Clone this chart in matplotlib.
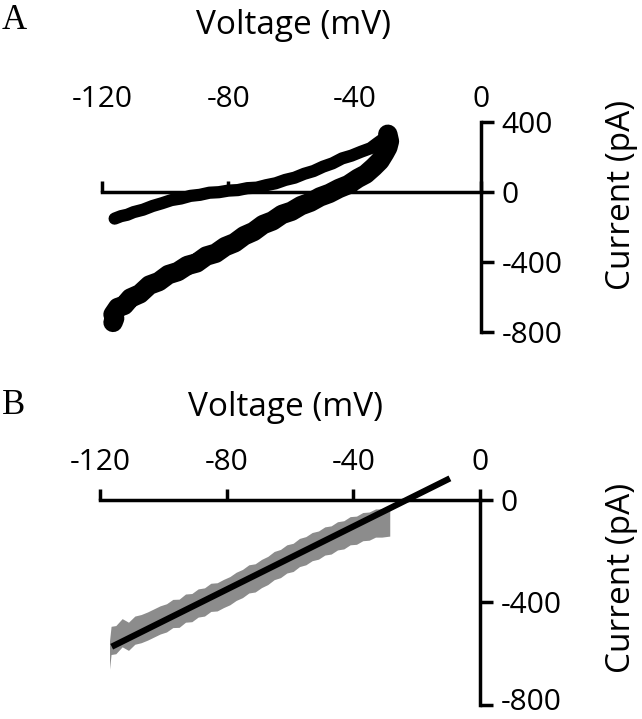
import matplotlib
matplotlib.use("Agg")
import matplotlib.pyplot as plt
import matplotlib.transforms as mtransforms
import numpy as np

# ---------------- data ----------------
# Panel A: ramp I-V, upper (rising) branch
a_up_v = [-116, -114, -112, -110, -107, -104, -101, -98, -95, -92, -89, -86, -83, -80,
          -77, -74, -71, -68, -65, -62, -59, -56, -53, -50, -47, -44, -41, -38, -35, -33, -31, -30]
a_up_i = [-152, -138, -130, -115, -101, -80, -64, -46, -37, -22, -16, -4, -1, 8,
          11, 22, 25, 39, 50, 69, 82, 104, 120, 145, 164, 192, 208, 230, 250, 277, 303, 335]
# Panel A: lower (returning) branch, from tip back to -117 mV
a_dn_v = [-29.5, -29, -29.5, -30.5, -32, -34, -36.5, -39, -42, -45, -48, -51, -54, -57, -60,
          -63, -66, -69, -72, -75, -78, -81, -84, -87, -90, -93, -96, -99, -102, -105,
          -108, -111, -113, -115, -116.5, -116, -116.5]
a_dn_i = [330, 290, 255, 222, 178, 142, 102, 78, 42, 20, -8, -28, -58, -78, -110,
          -128, -165, -186, -226, -250, -290, -312, -350, -366, -405, -420, -455, -472, -512, -532,
          -582, -606, -648, -660, -700, -722, -745]

# Panel B: averaged trace (grey) and linear fit
b_v = [-117, -116.5, -115, -113, -111, -109, -107, -105, -103, -101, -99, -97, -95, -93, -91,
       -89, -87, -85, -83, -81, -79, -77, -75, -73, -71, -69, -67, -65, -63, -61, -59, -57,
       -55, -53, -51, -49, -47, -45, -43, -41, -39, -37, -35, -33, -31, -28.5]
b_i = [-605, -548, -545, -518, -532, -508, -502, -492, -480, -468, -460, -443, -442, -422, -420,
       -402, -398, -380, -378, -365, -354, -337, -326, -308, -304, -287, -275, -256, -248, -230,
       -224, -205, -198, -182, -176, -160, -156, -140, -136, -120, -118, -104, -102, -90, -90, -86]
b_halfwidth = 55          # pA, half thickness of the grey trace
fit_v = [-116.3, -9.5]    # mV, extent of the fitted line
fit_g = 6.15              # pA/mV (nS)
fit_erev = -23.2          # mV

x_ticks = [-120, -80, -40, 0]
a_y_ticks = [400, 0, -400, -800]
b_y_ticks = [0, -400, -800]

# ---------------- figure ----------------
W, H = 642, 719
fig = plt.figure(figsize=(W / 100, H / 100), dpi=100)

label_font = "Open Sans"
tick_font = "Open Sans"

def setup(ax, ylim, ybounds, yticks):
    ax.set_xlim(-120, 0)
    ax.set_ylim(*ylim)
    ax.patch.set_visible(False)
    for s in ("left", "top"):
        ax.spines[s].set_visible(False)
    ax.spines["bottom"].set_position(("data", 0))
    ax.spines["right"].set_position(("data", 0))
    ax.spines["bottom"].set_bounds(-120, 0)
    ax.spines["right"].set_bounds(*ybounds)
    for s in ("bottom", "right"):
        ax.spines[s].set_linewidth(2.5)
        ax.spines[s].set_capstyle("projecting")
    ax.set_xticks(x_ticks)
    ax.set_xticklabels([str(t) for t in x_ticks])
    ax.set_yticks(yticks)
    ax.set_yticklabels([str(t) for t in yticks])
    ax.tick_params(axis="x", direction="in", length=8, width=2.5,
                   bottom=True, top=False, labelbottom=False, labeltop=True,
                   pad=3, labelsize=21.5)
    ax.tick_params(axis="y", direction="out", length=9, width=2.5,
                   left=False, right=True, labelleft=False, labelright=True,
                   pad=6, labelsize=21.5)
    for lab in ax.get_xticklabels() + ax.get_yticklabels():
        lab.set_fontfamily(tick_font)
    ax.xaxis.set_label_position("top")
    ax.yaxis.set_label_position("right")

def labels(ax, xl_xy, yl_xy):
    ax.set_xlabel("Voltage (mV)", fontsize=24, family=label_font)
    ax.xaxis.label.set_va("center")
    ax.xaxis.set_label_coords(*xl_xy)
    ax.set_ylabel("Current (pA)", fontsize=24, family=label_font, rotation=90)
    ax.yaxis.label.set_va("center")
    ax.yaxis.label.set_ha("center")
    ax.yaxis.set_label_coords(*yl_xy)

# Panel A axes
axA = fig.add_axes([102 / W, 1 - 332 / H, (481 - 102) / W, (332 - 118) / H])
setup(axA, (-800, 423), (-800, 400), a_y_ticks)
axA.plot(a_up_v, a_up_i, color="black", lw=8.8, solid_capstyle="round",
         solid_joinstyle="round", clip_on=False, zorder=3)
axA.plot(a_dn_v, a_dn_i, color="black", lw=14, solid_capstyle="round",
         solid_joinstyle="round", clip_on=False, zorder=3)
labels(axA, ((294 - 102) / 379, (332 - 25) / 214), ((622 - 102) / 379, (332 - 195) / 214))

# Panel B axes
axB = fig.add_axes([100 / W, 1 - 705 / H, (480 - 100) / W, (705 - 481) / H])
setup(axB, (-800, 74), (-800, 0), b_y_ticks)
b_v_arr = np.array(b_v)
b_i_arr = np.array(b_i)
axB.fill_between(b_v_arr, b_i_arr - b_halfwidth, b_i_arr + b_halfwidth,
                 color="#8c8c8c", lw=0, clip_on=False, zorder=2)
fv = np.array(fit_v)
axB.plot(fv, fit_g * (fv - fit_erev), color="black", lw=4.5,
         solid_capstyle="butt", clip_on=False, zorder=3)
labels(axB, ((286 - 100) / 380, (705 - 407) / 224), ((622 - 100) / 380, (705 - 578) / 224))

# keep the lowest tick label of panel B inside the canvas
for tick in axB.yaxis.get_major_ticks():
    if tick.get_loc() == -800:
        lab = tick.label2
        lab.set_va("bottom")
        lab.set_transform(lab.get_transform() +
                          mtransforms.ScaledTranslation(0, -9 / 72, fig.dpi_scale_trans))

# Panel letters
fig.text(2 / W, 1 - 4 / H, "A", family="Liberation Serif", fontsize=25, va="top", ha="left")
fig.text(2 / W, 1 - 389 / H, "B", family="Liberation Serif", fontsize=25, va="top", ha="left")

fig.savefig("out.png", dpi=100)
